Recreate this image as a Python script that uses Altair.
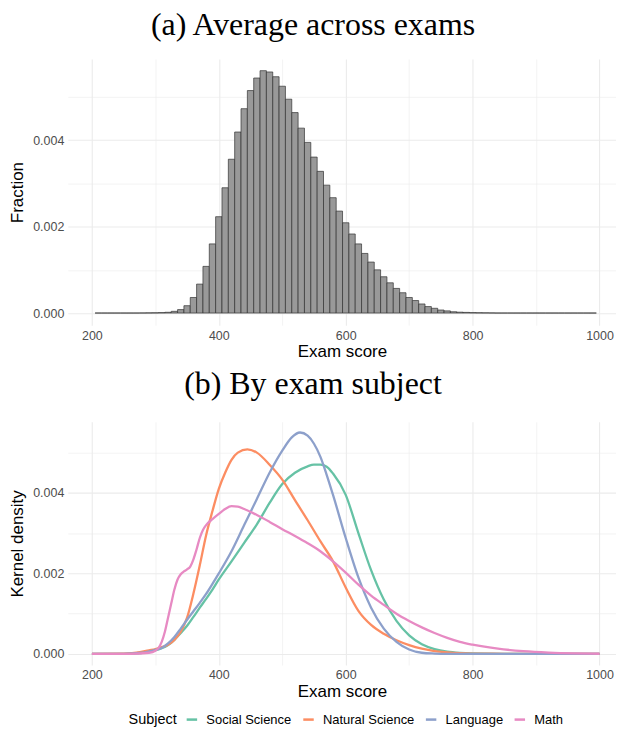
import altair as alt
import pandas as pd

# ---------------- data ----------------
bin_centers = list(range(210, 1000, 10))
fractions = [
    0.000001, 0.000001, 0.000001, 0.000001, 0.000001, 0.000001, 0.000001, 0.000002, 0.000004, 0.000006,  # 210-300
    0.00001, 0.000018, 0.00004, 0.00008, 0.00017, 0.00036, 0.00067, 0.00108, 0.0016, 0.00223,  # 310-400
    0.0029, 0.00356, 0.00419, 0.00473, 0.00515, 0.00544, 0.00561, 0.00558, 0.00547, 0.00525,  # 410-500
    0.00495, 0.00464, 0.00428, 0.00395, 0.00361, 0.00328, 0.00296, 0.00267, 0.00236, 0.00209,  # 510-600
    0.00183, 0.0016, 0.00138, 0.00118, 0.001, 0.00084, 0.0007, 0.00057, 0.00047, 0.00036,  # 610-700
    0.00029, 0.00021, 0.00015, 0.00011, 0.00007, 0.00005, 0.00003, 0.00002, 0.000015, 0.00001,  # 710-800
    0.000007, 0.000005, 0.000003, 0.000001, 0.000001, 0.000001, 0.000001, 0.000001, 0.000001, 0.000001,  # 810-900
    0.000001, 0.000001, 0.000001, 0.000001, 0.000001, 0.000001, 0.000001, 0.000001, 0.000001,  # 910-990
]

subjects = ["Social Science", "Natural Science", "Language", "Math"]
subject_colors = ["#66C2A5", "#FC8D62", "#8DA0CB", "#E78AC3"]

ss_x = [200, 250, 280, 300, 310, 320, 330, 340, 350, 360, 370, 380, 390, 400, 420, 440, 460, 480, 500,
        520, 540, 550, 560, 570, 580, 600, 620, 640, 660, 680, 700, 720, 740, 760, 780, 800, 850, 900, 1000]
ss_y = [0, 0.000003, 0.00003, 0.00009, 0.00014, 0.00022, 0.00035, 0.00052, 0.0007, 0.00092, 0.00115,
        0.00137, 0.0016, 0.00185, 0.0023, 0.00276, 0.00322, 0.00375, 0.00422, 0.0045, 0.00466, 0.0047,
        0.0047, 0.00465, 0.00448, 0.00395, 0.003, 0.00208, 0.00135, 0.00082, 0.00046, 0.00024, 0.00012,
        0.000055, 0.000025, 0.000012, 0.000003, 0.0000005, 0]

ns_x = [200, 250, 270, 290, 300, 310, 320, 330, 340, 350, 360, 370, 380, 390, 400, 410, 420, 430, 445,
        460, 480, 500, 520, 540, 560, 580, 600, 620, 640, 660, 680, 700, 720, 740, 760, 780, 800, 850, 900, 1000]
ns_y = [0, 0.000005, 0.00003, 0.00009, 0.00012, 0.00017, 0.00023, 0.00035, 0.00055, 0.0009, 0.0015,
        0.0022, 0.00295, 0.00355, 0.0041, 0.0045, 0.00482, 0.005, 0.00508, 0.005, 0.0047, 0.00433,
        0.00382, 0.00332, 0.0028, 0.0023, 0.00165, 0.00107, 0.00072, 0.0005, 0.00034, 0.00022, 0.00013,
        0.00007, 0.00004, 0.00002, 0.00001, 0.000003, 0.000001, 0]

la_x = [200, 250, 280, 300, 310, 320, 330, 340, 350, 360, 370, 380, 390, 400, 420, 440, 460, 480, 500,
        515, 528, 540, 550, 560, 570, 580, 600, 620, 640, 660, 680, 700, 720, 740, 760, 800, 1000]
la_y = [0, 0.000002, 0.00003, 0.0001, 0.00015, 0.00026, 0.00042, 0.00063, 0.00085, 0.00106, 0.00127,
        0.00149, 0.00174, 0.002, 0.00255, 0.0032, 0.00385, 0.0045, 0.00505, 0.00538, 0.0055, 0.00542,
        0.00522, 0.0049, 0.00445, 0.00395, 0.00288, 0.0019, 0.00115, 0.00063, 0.0003, 0.00011, 0.00003,
        0.00001, 0.000002, 0, 0]

ma_x = [200, 260, 290, 300, 305, 310, 315, 320, 325, 330, 335, 340, 345, 350, 355, 360, 365, 370, 375,
        380, 390, 400, 410, 420, 430, 440, 460, 480, 500, 520, 540, 560, 580, 600, 620, 640, 660, 680,
        700, 720, 740, 760, 780, 800, 840, 880, 920, 960, 1000]
ma_y = [0, 0.000003, 0.00003, 0.00008, 0.00015, 0.0003, 0.00055, 0.0009, 0.00125, 0.0016, 0.00185,
        0.00198, 0.00205, 0.0021, 0.00217, 0.00235, 0.0026, 0.00288, 0.00308, 0.0032, 0.00335, 0.00348,
        0.0036, 0.00367, 0.00366, 0.0036, 0.00345, 0.00328, 0.0031, 0.00293, 0.00275, 0.00255, 0.0023,
        0.00202, 0.00172, 0.00145, 0.00122, 0.001, 0.00082, 0.00066, 0.00052, 0.0004, 0.0003, 0.00023,
        0.00013, 0.00007, 0.000035, 0.000015, 0.000005]

x_ticks = [200, 300, 400, 500, 600, 700, 800, 900, 1000]
y_ticks = [0, 0.001, 0.002, 0.003, 0.004, 0.005]

# ---------------- frames ----------------
hist_df = pd.DataFrame({"center": bin_centers, "fraction": fractions})
hist_df["left"] = hist_df["center"] - 5
hist_df["right"] = hist_df["center"] + 5
hist_df["zero"] = 0.0

dens_parts = []
for name, xs, ys in [(subjects[0], ss_x, ss_y), (subjects[1], ns_x, ns_y),
                     (subjects[2], la_x, la_y), (subjects[3], ma_x, ma_y)]:
    dens_parts.append(pd.DataFrame({"Subject": name, "score": xs, "density": ys}))
dens_df = pd.concat(dens_parts, ignore_index=True)

SANS = "Liberation Sans"
SERIF = "Liberation Serif"
GRID = "#EBEBEB"
X_DOMAIN = [162, 1026]
W = 550


def x_axis():
    return alt.Axis(
        values=x_ticks,
        labelExpr="datum.value % 200 == 0 ? format(datum.value, 'd') : ''",
        title="Exam score", ticks=False, domain=False, grid=True,
        gridColor=GRID,
        gridWidth={"condition": {"test": "datum.value % 200 == 0", "value": 1.1}, "value": 0.6},
        labelColor="#4D4D4D", labelFontSize=12.5, labelFont=SANS, labelPadding=4,
        titleFont=SANS, titleFontSize=17, titleFontWeight="normal", titleColor="black",
        titlePadding=2,
    )


def y_axis(title):
    return alt.Axis(
        values=y_ticks,
        labelExpr="round(datum.value * 1000) % 2 == 0 ? format(datum.value, '.3f') : ''",
        title=title, ticks=False, domain=False, grid=True,
        gridColor=GRID,
        gridWidth={"condition": {"test": "round(datum.value * 1000) % 2 == 0", "value": 1.1}, "value": 0.6},
        labelColor="#4D4D4D", labelFontSize=12.5, labelFont=SANS, labelPadding=4,
        titleFont=SANS, titleFontSize=17, titleFontWeight="normal", titleColor="black",
        titlePadding=6,
    )


top = alt.Chart(hist_df).mark_rect(fill="#999999", stroke="#333333", strokeWidth=0.7).encode(
    x=alt.X("left:Q", scale=alt.Scale(domain=X_DOMAIN, nice=False, zero=False), axis=x_axis()),
    x2="right:Q",
    y=alt.Y("fraction:Q", scale=alt.Scale(domain=[-0.00028, 0.00588], nice=False, zero=False),
            axis=y_axis("Fraction")),
    y2="zero:Q",
).properties(
    width=W, height=267,
    title=alt.Title("(a) Average across exams", font=SERIF, fontSize=32, fontWeight="normal",
                    color="black", anchor="middle", offset=17, dx=-29),
)

bottom = alt.Chart(dens_df).mark_line(strokeWidth=2.3, interpolate="monotone").encode(
    x=alt.X("score:Q", scale=alt.Scale(domain=X_DOMAIN, nice=False, zero=False), axis=x_axis()),
    y=alt.Y("density:Q", scale=alt.Scale(domain=[-0.000275, 0.005765], nice=False, zero=False),
            axis=y_axis("Kernel density")),
    color=alt.Color(
        "Subject:N",
        scale=alt.Scale(domain=subjects, range=subject_colors),
        legend=alt.Legend(
            orient="none", legendX=61, legendY=656, direction="horizontal",
            title="Subject", titleOrient="left", titleFont=SANS, titleFontSize=14.5,
            titleFontWeight="normal", titleColor="black", titlePadding=8,
            labelFont=SANS, labelFontSize=13, labelColor="black",
            symbolType="stroke", symbolStrokeWidth=2.5, symbolSize=110,
            columnPadding=6, labelOffset=8,
        ),
    ),
    order=alt.Order("score:Q"),
).properties(
    width=W, height=244,
    title=alt.Title("(b) By exam subject", font=SERIF, fontSize=32, fontWeight="normal",
                    color="black", anchor="middle", offset=21, dx=-29),
)

chart = alt.vconcat(top, bottom, spacing=8).properties(
    padding={"left": 0, "top": 0, "right": 0, "bottom": 0}
).configure_view(stroke=None)

chart.save("out.html", embed_options={"renderer": "svg", "actions": False})
